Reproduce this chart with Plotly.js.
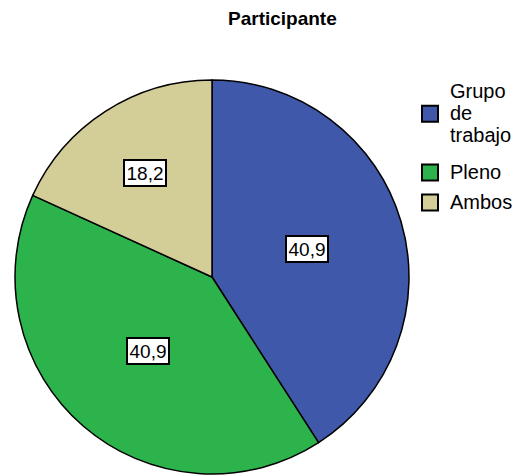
<!DOCTYPE html>
<html>
<head>
<meta charset="utf-8">
<script src="https://cdn.plot.ly/plotly-3.0.1.min.js"></script>
<style>html,body{margin:0;padding:0;background:#fff;}#chart{width:521px;height:476px;}</style>
</head>
<body>
<div id="chart"></div>
<script>
const categories = ["Grupo<br>de<br>trabajo", "Pleno", "Ambos"];
const percentages = [40.9, 40.9, 18.2];
const chartTitle = "Participante";

const colors = ["#3F58AA", "#2DB34B", "#D3CE98"];
const labelRadius = [0.5, 0.5, 0.63];
const legendCenterY = [114, 173, 203];
const W = 521, H = 476;
const cx = 212, cy = 277, R = 197;
const FONT = "Liberation Sans, Arial, sans-serif";

const total = percentages.reduce((a, b) => a + b, 0);
let cum = 0;
const annotations = percentages.map((v, i) => {
  const mid = (cum + v / 2) / total * 2 * Math.PI;
  cum += v;
  const px = cx + labelRadius[i] * R * Math.sin(mid);
  const py = cy - labelRadius[i] * R * Math.cos(mid);
  return {
    xref: "paper", yref: "paper",
    x: px / W, y: 1 - py / H,
    xanchor: "center", yanchor: "middle",
    text: v.toFixed(1).replace(".", ","),
    showarrow: false,
    font: {family: FONT, size: 19, color: "#000"},
    bgcolor: "#fff", bordercolor: "#000", borderwidth: 2, borderpad: 1.5
  };
});
annotations.push({
  xref: "paper", yref: "paper", x: 282 / W, y: 1 - 19 / H,
  xanchor: "center", yanchor: "middle", showarrow: false,
  text: "<b>" + chartTitle + "</b>",
  font: {family: FONT, size: 19, color: "#000"}
});

const pie = {
  type: "pie",
  labels: categories,
  values: percentages,
  sort: false,
  direction: "clockwise",
  rotation: 0,
  textinfo: "none",
  hoverinfo: "none",
  showlegend: false,
  marker: {colors: colors, line: {color: "#000", width: 1.5}},
  domain: {x: [(cx - R) / W, (cx + R) / W], y: [1 - (cy + R) / H, 1 - (cy - R) / H]}
};

const styled = s => s.split("<br>").map(p => "<span style='font-size:20px'>" + p + "</span>").join("<br>");
const legendIds = ["legend", "legend2", "legend3"];

const legendTraces = categories.map((name, i) => ({
  type: "scatter", mode: "markers", name: styled(name),
  legend: legendIds[i],
  x: [null], y: [null], hoverinfo: "none",
  marker: {symbol: "square", size: 16, color: colors[i], line: {color: "#000", width: 2}}
}));

const layout = {
  width: W, height: H,
  margin: {l: 0, r: 0, t: 0, b: 0},
  paper_bgcolor: "#fff",
  plot_bgcolor: "rgba(0,0,0,0)",
  xaxis: {visible: false, domain: [0.9, 1]},
  yaxis: {visible: false, domain: [0.9, 1]},
  showlegend: true,
  annotations: annotations
};
legendIds.forEach((id, i) => {
  layout[id] = {
    x: 410 / W, y: 1 - legendCenterY[i] / H, xanchor: "left", yanchor: "middle",
    font: {family: FONT, size: 17, color: "#000"},
    itemsizing: "trace", bgcolor: "rgba(0,0,0,0)"
  };
});

Plotly.newPlot("chart", [pie].concat(legendTraces), layout, {staticPlot: true});
</script>
</body>
</html>
